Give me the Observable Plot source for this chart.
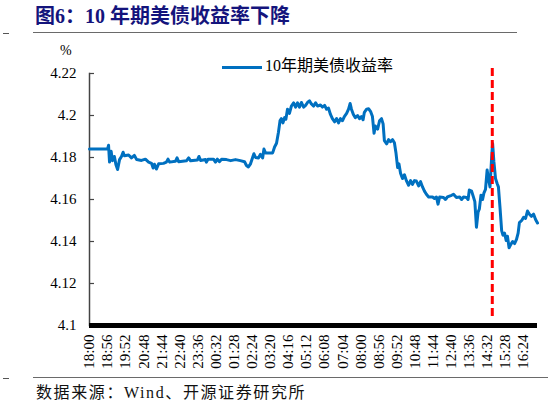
<!DOCTYPE html>
<html>
<head>
<meta charset="utf-8">
<script src="https://cdn.jsdelivr.net/npm/d3@7"></script>
<script src="https://cdn.jsdelivr.net/npm/@observablehq/plot@0.6"></script>
<style>
  body { margin: 0; width: 550px; height: 408px; position: relative; background: #fff; overflow: hidden;
         font-family: "Liberation Serif", "Noto Sans CJK SC", serif; color: #000; }
  #title { position: absolute; left: 35px; top: 4px; font-size: 20px; line-height: 24px; font-weight: bold;
           color: #14147c; white-space: nowrap; }
  .rule { position: absolute; height: 0; border-top: 1.5px solid #6a6a6a; }
  .dash { position: absolute; width: 6px; height: 0; border-top: 1px solid #555; }
  #unit { position: absolute; left: 60px; top: 43px; font-size: 14px; }
  #legend { position: absolute; left: 222px; top: 56px; font-size: 16px; line-height: 20px; white-space: nowrap; }
  #legend .sw { display: inline-block; width: 40px; height: 3px; background: #0070c0; vertical-align: middle; margin-right: 3px; }
  #chart { position: absolute; left: 0; top: 40px; }
  #source { position: absolute; left: 36px; top: 383px; font-size: 16px; line-height: 20px; color: #111;
            white-space: nowrap; letter-spacing: 1.6px; }
</style>
</head>
<body>
<div id="title">图6：10 年期美债收益率下降</div>
<div class="dash" style="left:3px;top:33px"></div>
<div class="rule" style="left:33px;top:32px;width:484px"></div>
<div id="unit">%</div>
<div id="legend"><span class="sw"></span>10年期美债收益率</div>
<div id="chart"></div>
<div class="dash" style="left:3px;top:378px"></div>
<div class="rule" style="left:33px;top:377px;width:515px"></div>
<div id="source">数据来源：Wind、开源证券研究所</div>

<script>
// Intraday 10-year US Treasury yield (%), Beijing time, from 18:00 to 17:07 the next day
const times = [
  "18:00","18:56","18:59","19:02","19:07","19:11","19:17","19:22","19:27","19:33",
  "19:39","19:44","19:48","20:01","20:10","20:19","20:26","20:41","20:53","21:03",
  "21:12","21:17","21:21","21:27","21:34","21:49","21:58","22:03","22:08","22:26",
  "22:31","22:36","23:00","23:07","23:13","23:34","23:39","23:44","23:59","00:02",
  "00:07","00:24","00:30","00:36","00:42","00:49","01:04","01:17","01:32","01:47",
  "02:00","02:06","02:12","02:18","02:25","02:29","02:34","02:43","02:49","02:56",
  "03:00","03:05","03:27","03:33","03:39","03:45","03:50","03:54","03:59","04:04",
  "04:08","04:13","04:19","04:25","04:32","04:38","04:44","04:50","04:56","05:03",
  "05:09","05:15","05:21","05:27","05:34","05:40","05:46","05:55","06:01","06:08",
  "06:14","06:20","06:26","06:32","06:39","06:45","06:51","06:57","07:03","07:09",
  "07:16","07:22","07:27","07:31","07:37","07:43","07:50","07:56","08:02","08:07",
  "08:11","08:18","08:24","08:30","08:36","08:41","08:45","08:52","08:58","09:04",
  "09:09","09:13","09:20","09:26","09:32","09:38","09:44","09:49","09:54","09:58",
  "10:03","10:09","10:15","10:21","10:28","10:34","10:40","10:46","10:52","10:59",
  "11:05","11:11","11:17","11:23","11:30","11:42","11:48","11:54","11:59","12:04",
  "12:16","12:22","12:28","12:41","12:47","12:56","13:06","13:12","13:18","13:27",
  "13:32","13:36","13:43","13:49","13:53","13:58","14:03","14:07","14:12","14:17",
  "14:21","14:26","14:31","14:35","14:40","14:45","14:48","14:52","14:57","15:02",
  "15:06","15:11","15:16","15:20","15:25","15:30","15:34","15:39","15:44","15:50",
  "15:56","16:02","16:07","16:11","16:18","16:24","16:30","16:36","16:42","16:48",
  "16:55","17:01","17:07"
];
const yields = [
  4.1841,4.1841,4.1858,4.1778,4.1830,4.1785,4.1805,4.1765,4.1743,4.1790,
  4.1805,4.1825,4.1808,4.1812,4.1798,4.1810,4.1790,4.1786,4.1792,4.1778,
  4.1772,4.1750,4.1768,4.1745,4.1770,4.1772,4.1778,4.1792,4.1778,4.1782,
  4.1798,4.1780,4.1784,4.1798,4.1784,4.1788,4.1805,4.1786,4.1790,4.1778,
  4.1792,4.1792,4.1778,4.1792,4.1780,4.1792,4.1790,4.1785,4.1790,4.1785,
  4.1780,4.1762,4.1755,4.1768,4.1800,4.1818,4.1800,4.1798,4.1815,4.1798,
  4.1840,4.1822,4.1822,4.1850,4.1868,4.1920,4.1976,4.1985,4.1965,4.1990,
  4.1982,4.2030,4.2010,4.2045,4.2060,4.2040,4.2060,4.2040,4.2062,4.2040,
  4.2048,4.2062,4.2070,4.2055,4.2045,4.2060,4.2045,4.2050,4.2040,4.2048,
  4.2030,4.2035,4.2005,4.1985,4.1970,4.1985,4.1965,4.1985,4.1975,4.1995,
  4.2010,4.2030,4.2057,4.2030,4.2005,4.1990,4.2000,4.1985,4.1995,4.1980,
  4.2015,4.2030,4.2032,4.2020,4.1995,4.1915,4.1950,4.1935,4.1975,4.1985,
  4.1960,4.1880,4.1865,4.1885,4.1875,4.1885,4.1870,4.1820,4.1752,4.1770,
  4.1725,4.1700,4.1718,4.1690,4.1668,4.1690,4.1672,4.1690,4.1688,4.1665,
  4.1685,4.1660,4.1640,4.1625,4.1612,4.1612,4.1605,4.1612,4.1578,4.1612,
  4.1610,4.1600,4.1612,4.1620,4.1625,4.1610,4.1612,4.1600,4.1612,4.1610,
  4.1600,4.1645,4.1640,4.1610,4.1590,4.1468,4.1540,4.1555,4.1620,4.1600,
  4.1630,4.1648,4.1740,4.1700,4.1660,4.1800,4.1867,4.1780,4.1700,4.1676,
  4.1660,4.1560,4.1452,4.1430,4.1440,4.1405,4.1425,4.1370,4.1385,4.1400,
  4.1390,4.1410,4.1440,4.1490,4.1500,4.1515,4.1510,4.1545,4.1530,4.1520,
  4.1530,4.1505,4.1488
];
// Time marked by the red dashed line
const eventTime = "14:47";

// Axis ticks and their labels
const yTicks = [4.1, 4.12, 4.14, 4.16, 4.18, 4.2, 4.22];
const yTickLabels = ["4.1", "4.12", "4.14", "4.16", "4.18", "4.2", "4.22"];
const xTickLabels = [
  "18:00","18:56","19:52","20:48","21:44","22:40","23:36","00:32","01:28","02:24",
  "03:20","04:16","05:12","06:08","07:04","08:00","08:56","09:52","10:48","11:44",
  "12:40","13:36","14:32","15:28","16:24"
];

// Minutes elapsed since the 18:00 session start (wrapping past midnight)
const minutesFromStart = (t) => {
  const [h, m] = t.split(":").map(Number);
  return ((h * 60 + m) - 18 * 60 + 1440) % 1440;
};

const data = times.map((t, i) => ({minute: minutesFromStart(t), value: yields[i]}));
const xTicks = xTickLabels.map(minutesFromStart);
const xLabel = new Map(xTicks.map((m, i) => [m, xTickLabels[i]]));
const yLabel = new Map(yTicks.map((v, i) => [v, yTickLabels[i]]));

const chart = Plot.plot({
  width: 550,
  height: 332,
  marginTop: 33,
  marginBottom: 47,
  marginLeft: 89,
  marginRight: 13,
  style: {fontFamily: '"Liberation Serif", "Noto Sans CJK SC", serif', fontSize: "15px", color: "#000", background: "transparent"},
  x: {type: "linear", domain: d3.extent(data, (d) => d.minute), label: null},
  y: {domain: [4.1, 4.22], label: null},
  marks: [
    Plot.axisY({ticks: yTicks, tickFormat: (d) => yLabel.get(d), tickSize: 0, tickPadding: 13, fill: "#000", label: null}),
    Plot.axisY({ticks: yTicks, text: null, tickSize: 5, dx: 5, stroke: "#444", strokeWidth: 1.2, label: null}),
    Plot.frame({anchor: "left", stroke: "#444", strokeWidth: 1.5}),
    Plot.line(data, {x: "minute", y: "value", stroke: "#0070c0", strokeWidth: 3, strokeLinejoin: "round"}),
    Plot.ruleX([minutesFromStart(eventTime)], {stroke: "#ff0000", strokeWidth: 3, strokeDasharray: "8,4", insetTop: -5, insetBottom: 5}),
    Plot.ruleY([4.1], {stroke: "#000", strokeWidth: 5}),
    Plot.axisX({ticks: xTicks, tickFormat: (d) => xLabel.get(d), tickRotate: -90, tickSize: 0, tickPadding: 9, fill: "#000", label: null})
  ]
});
document.getElementById("chart").appendChild(chart);
</script>
</body>
</html>
